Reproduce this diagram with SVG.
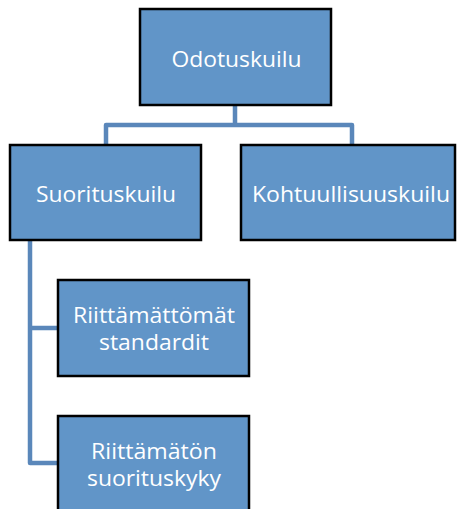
<svg xmlns="http://www.w3.org/2000/svg" width="457" height="509" viewBox="0 0 457 509">
<style>
.box{fill:#6195c8;stroke:#000;stroke-width:2.5}
.lbl{font-family:"Open Sans","Liberation Sans",sans-serif;font-size:22px;fill:#fff;text-anchor:middle}
.conn{fill:none;stroke:#5a87ba;stroke-width:4.5;stroke-linejoin:round}
</style>
<rect width="457" height="509" fill="#fff"/>
<g id="connectors">
<path class="conn" d="M235 105 V125 M106 145 V125 H352 V145"/>
<path class="conn" d="M30 240 V463 H58 M30 328 H58"/>
</g>
<g id="n1"><rect class="box" x="140" y="9" width="191" height="96"/><text class="lbl" x="236.5" y="67" textLength="130" lengthAdjust="spacingAndGlyphs">Odotuskuilu</text></g>
<g id="n2"><rect class="box" x="10" y="145" width="191" height="95"/><text class="lbl" x="106" y="202" textLength="140" lengthAdjust="spacingAndGlyphs">Suorituskuilu</text></g>
<g id="n3"><rect class="box" x="241" y="145" width="214" height="95"/><text class="lbl" x="351" y="202" textLength="198" lengthAdjust="spacingAndGlyphs">Kohtuullisuuskuilu</text></g>
<g id="n4"><rect class="box" x="58" y="280" width="191" height="96"/><text class="lbl" x="154" y="323" textLength="162" lengthAdjust="spacingAndGlyphs">Riittämättömät</text><text class="lbl" x="154" y="350" textLength="110" lengthAdjust="spacingAndGlyphs">standardit</text></g>
<g id="n5"><rect class="box" x="58" y="416" width="191" height="100"/><text class="lbl" x="154" y="459" textLength="126" lengthAdjust="spacingAndGlyphs">Riittämätön</text><text class="lbl" x="154" y="486" textLength="134" lengthAdjust="spacingAndGlyphs">suorituskyky</text></g>
</svg>
